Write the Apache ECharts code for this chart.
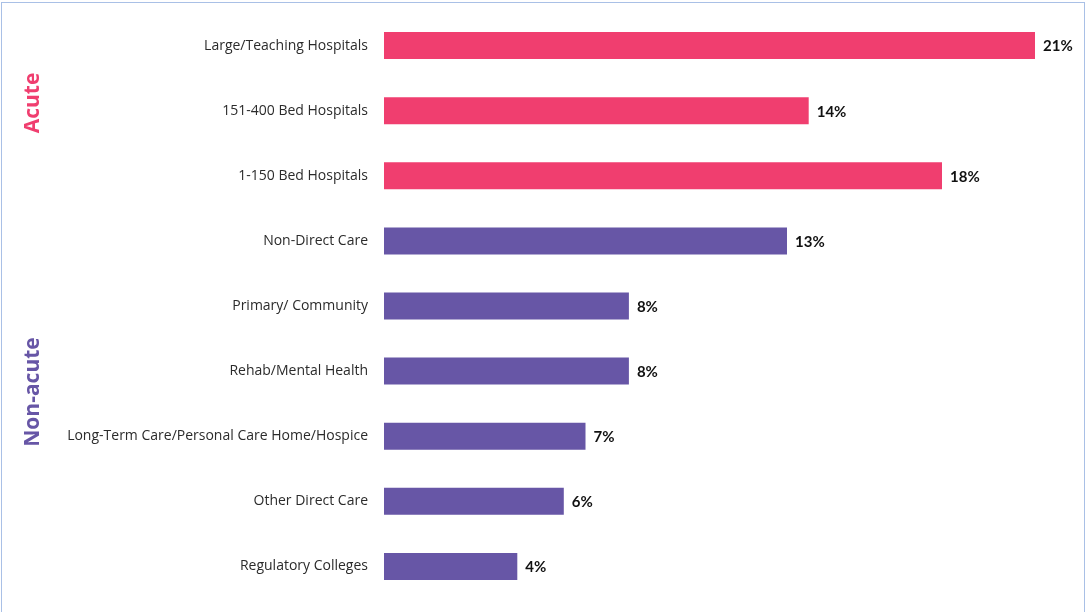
<!DOCTYPE html>
<html>
<head>
<meta charset="utf-8">
<script src="https://cdn.jsdelivr.net/npm/echarts@6/dist/echarts.min.js"></script>
<style>
html,body{margin:0;padding:0;background:#fff;}
#wrap{position:absolute;left:1px;top:2px;width:1084px;height:612px;border:1px solid #a9c0e6;border-bottom:none;box-sizing:border-box;}
#chart{position:absolute;left:0;top:0;width:1087px;height:612px;}
</style>
</head>
<body>
<div id="wrap"></div>
<div id="chart"></div>
<script>
const categories = [
  "Large/Teaching Hospitals",
  "151-400 Bed Hospitals",
  "1-150 Bed Hospitals",
  "Non-Direct Care",
  "Primary/ Community",
  "Rehab/Mental Health",
  "Long-Term Care/Personal Care Home/Hospice",
  "Other Direct Care",
  "Regulatory Colleges"
];
const values = [21.0, 13.7, 18.0, 13.0, 7.9, 7.9, 6.5, 5.8, 4.3];
const valueLabels = ["21%", "14%", "18%", "13%", "8%", "8%", "7%", "6%", "4%"];
const groups = ["acute", "acute", "acute", "non", "non", "non", "non", "non", "non"];
const groupColors = { acute: "#f03e6f", non: "#6756a6" };

const chart = echarts.init(document.getElementById('chart'), null, { renderer: 'canvas' });
chart.setOption({
  animation: false,
  grid: { left: 384, top: 13, width: 651, height: 586, containLabel: false },
  xAxis: {
    type: 'value', min: 0, max: 21, show: false
  },
  yAxis: {
    type: 'category',
    inverse: true,
    data: categories,
    axisLine: { show: false },
    axisTick: { show: false },
    splitLine: { show: false },
    axisLabel: {
      margin: 16,
      color: '#2b2b2b',
      fontFamily: '"Open Sans", Lato, sans-serif',
      fontSize: 14
    }
  },
  series: [{
    type: 'bar',
    barWidth: 27,
    data: values.map((v, i) => ({
      value: v,
      itemStyle: { color: groupColors[groups[i]] },
      label: { formatter: valueLabels[i] }
    })),
    label: {
      show: true,
      position: 'right',
      distance: 8,
      offset: [0, 1],
      color: '#111111',
      fontWeight: 'bold',
      fontFamily: 'Lato, "Open Sans", sans-serif',
      fontSize: 15
    }
  }],
  graphic: [
    {
      type: 'text', x: 33, y: 103, rotation: Math.PI / 2,
      style: {
        text: 'Acute', fill: '#f03e6f', font: 'bold 21px "Open Sans", Lato, sans-serif',
        align: 'center', verticalAlign: 'middle'
      }
    },
    {
      type: 'text', x: 33, y: 392, rotation: Math.PI / 2,
      style: {
        text: 'Non-acute', fill: '#6756a6', font: 'bold 21px "Open Sans", Lato, sans-serif',
        align: 'center', verticalAlign: 'middle'
      }
    }
  ]
});
</script>
</body>
</html>
